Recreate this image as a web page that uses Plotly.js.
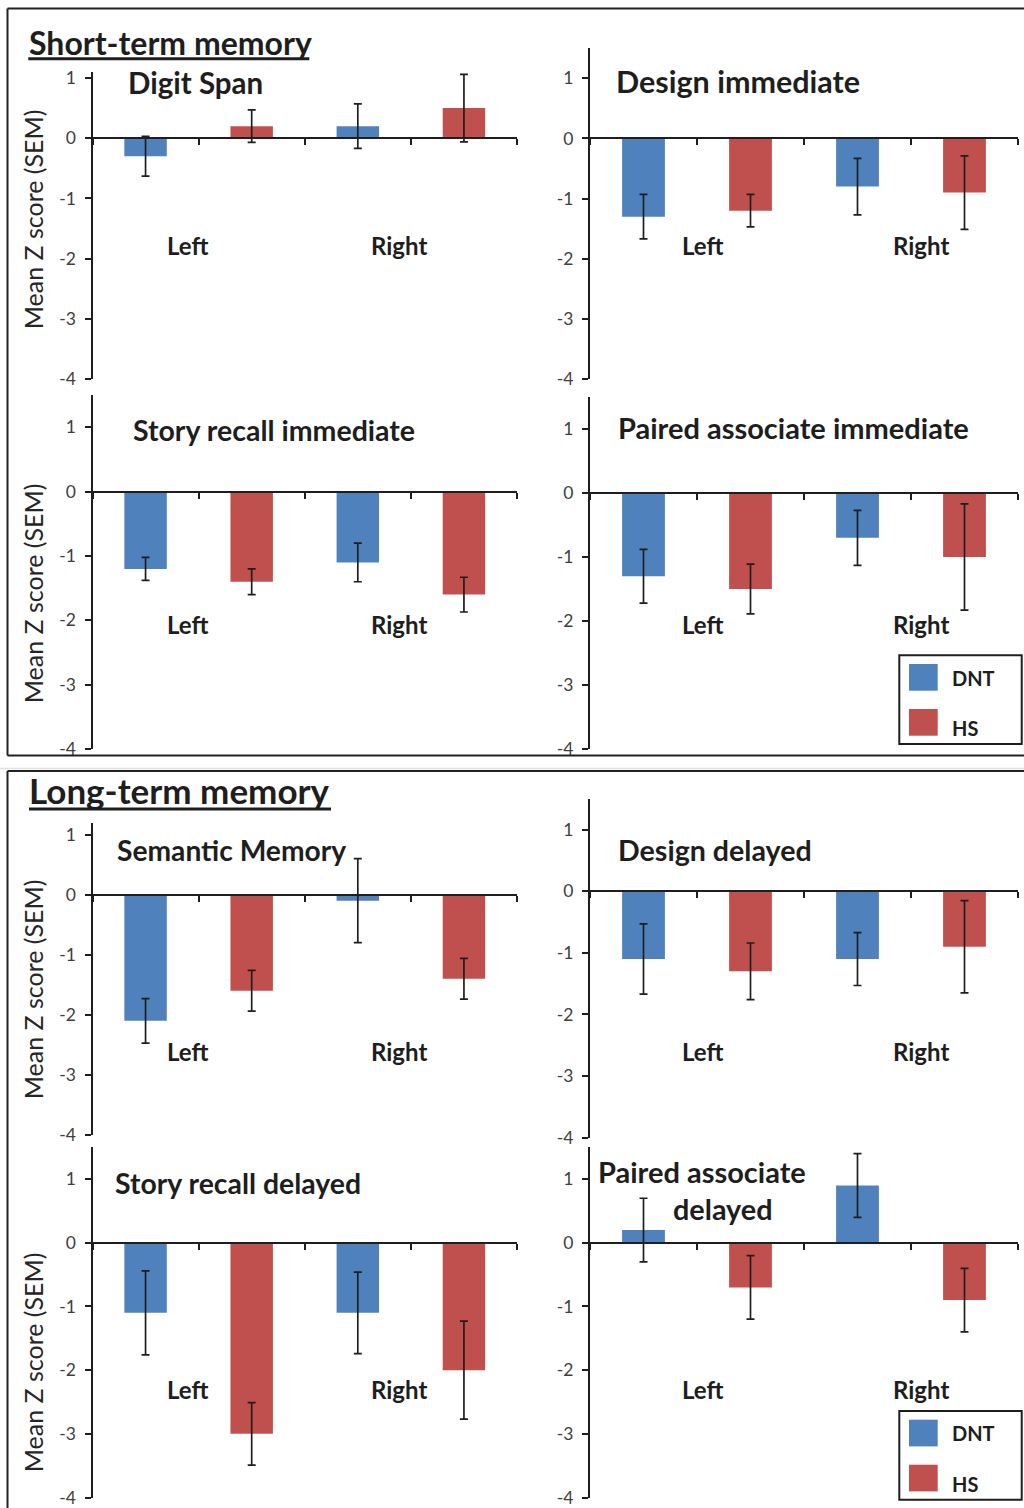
<!DOCTYPE html>
<html>
<head>
<meta charset="utf-8">
<script src="https://cdn.plot.ly/plotly-3.0.1.min.js"></script>
<style>html,body{margin:0;padding:0;background:#fff;}#chart{width:1024px;height:1508px;}</style>
</head>
<body>
<div id="chart"></div>
<script>
// ---------------- DATA ----------------
const panelTitles = ["Digit Span", "Design immediate", "Story recall immediate", "Paired associate immediate",
                     "Semantic Memory", "Design delayed", "Story recall delayed", "Paired associate delayed"];
const sides = ["Left", "Right"];
const groups = ["DNT", "HS"];
const sectionTitles = ["Short-term memory", "Long-term memory"];
const yAxisTitle = "Mean Z score (SEM)";
const zTicks = [1, 0, -1, -2, -3, -4];
const zTickLabels = ["1", "0", "-1", "-2", "-3", "-4"];

// means and SEM per panel (same order as panelTitles)
const dntLeft     = [-0.3, -1.3, -1.2, -1.3, -2.1, -1.1, -1.1,  0.2];
const dntLeftErr  = [0.33, 0.37, 0.18, 0.42, 0.37, 0.57, 0.66, 0.50];
const hsLeft      = [ 0.2, -1.2, -1.4, -1.5, -1.6, -1.3, -3.0, -0.7];
const hsLeftErr   = [0.27, 0.27, 0.20, 0.39, 0.34, 0.46, 0.49, 0.50];
const dntRight    = [ 0.2, -0.8, -1.1, -0.7, -0.1, -1.1, -1.1,  0.9];
const dntRightErr = [0.37, 0.47, 0.30, 0.43, 0.70, 0.43, 0.64, 0.50];
const hsRight     = [ 0.5, -0.9, -1.6, -1.0, -1.4, -0.9, -2.0, -0.9];
const hsRightErr  = [0.56, 0.61, 0.27, 0.83, 0.34, 0.75, 0.77, 0.50];

// ---------------- STYLE / LAYOUT ----------------
const W = 1024, H = 1508;
const fx = p => p / W;
const fy = p => 1 - p / H;
const FONT = "Lato, 'Open Sans', sans-serif";
const INK = "#1e1e1e";
const colors = {DNT: "#4F81BD", HS: "#C0504D"};

// panel geometry in pixels: x-domain, y-domain (top,bottom), y range
const geo = [
  {x: [92.5, 517], y: [72, 379],      r: [-4, 1.1]},
  {x: [590, 1018], y: [48.3, 379],    r: [-4, 1.5]},
  {x: [92.5, 517], y: [395.2, 749],   r: [-4, 1.5]},
  {x: [590, 1018], y: [397, 749],     r: [-4, 1.5]},
  {x: [92.5, 517], y: [822.5, 1135],  r: [-4, 1.2]},
  {x: [590, 1018], y: [799, 1137.5],  r: [-4, 1.5]},
  {x: [92.5, 517], y: [1147.3, 1497.5], r: [-4, 1.5]},
  {x: [590, 1018], y: [1147.3, 1497.5], r: [-4, 1.5]}
];

const catOf = (side, grp) => side + " " + grp;
const categoryArray = [];
sides.forEach(s => groups.forEach(g => categoryArray.push(catOf(s, g))));

const seriesY = {DNT: [dntLeft, dntRight], HS: [hsLeft, hsRight]};
const seriesE = {DNT: [dntLeftErr, dntRightErr], HS: [hsLeftErr, hsRightErr]};

const traces = [];
const layout = {
  width: W, height: H,
  margin: {l: 0, r: 0, t: 0, b: 0},
  paper_bgcolor: "#fff", plot_bgcolor: "rgba(0,0,0,0)",
  showlegend: false,
  barmode: "overlay",
  font: {family: FONT, color: INK},
  annotations: [],
  shapes: []
};

geo.forEach((g, i) => {
  const n = i + 1;
  const xa = n === 1 ? "xaxis" : "xaxis" + n;
  const ya = n === 1 ? "yaxis" : "yaxis" + n;
  const xr = n === 1 ? "x" : "x" + n;
  const yr = n === 1 ? "y" : "y" + n;
  groups.forEach(grp => {
    traces.push({
      type: "bar",
      name: grp,
      x: sides.map(s => catOf(s, grp)),
      y: seriesY[grp].map(arr => arr[i]),
      width: 0.4,
      xaxis: xr, yaxis: yr,
      marker: {color: colors[grp]},
      error_y: {type: "data", array: seriesE[grp].map(arr => arr[i]), visible: true,
                color: INK, thickness: 1.7, width: 4},
      hoverinfo: "skip"
    });
  });
  const yb = fy(g.y[1]), yt = fy(g.y[0]);
  const zeroPos = yb + (0 - g.r[0]) / (g.r[1] - g.r[0]) * (yt - yb);
  layout[xa] = {
    domain: [fx(g.x[0]), fx(g.x[1])],
    anchor: "free", position: zeroPos,
    type: "category", categoryorder: "array", categoryarray: categoryArray,
    range: [-0.5, 3.5], tickson: "boundaries",
    ticks: "outside", ticklen: 6, tickwidth: 2, tickcolor: INK,
    showline: true, linewidth: 2, linecolor: INK,
    showticklabels: false, showgrid: false, zeroline: false, fixedrange: true
  };
  layout[ya] = {
    domain: [yb, yt], anchor: xr,
    range: g.r, tickmode: "array", tickvals: zTicks, ticktext: zTickLabels,
    ticks: "outside", ticklen: 6, tickwidth: 2, tickcolor: INK,
    ticklabelstandoff: 5, ticklabeloverflow: "allow",
    showline: true, linewidth: 2, linecolor: INK,
    showgrid: false, zeroline: false, fixedrange: true,
    tickfont: {family: FONT, size: 17.5, color: "#404040"}
  };
});

function ann(text, x, yc, size, weight, anchor, extra) {
  return Object.assign({
    text: text, xref: "paper", yref: "paper", x: fx(x), y: fy(yc),
    xanchor: anchor || "left", yanchor: "middle", showarrow: false,
    font: {family: FONT, size: size, color: INK, weight: weight}
  }, extra || {});
}

// section titles + underline
layout.annotations.push(ann(sectionTitles[0], 26.5, 42.5, 32, 700));
layout.annotations.push(ann(sectionTitles[1], 27, 790.5, 35, 700));
layout.shapes.push({type: "line", xref: "paper", yref: "paper", x0: fx(28.3), x1: fx(309.3), y0: fy(58.7), y1: fy(58.7), line: {color: INK, width: 3}});
layout.shapes.push({type: "line", xref: "paper", yref: "paper", x0: fx(29), x1: fx(331), y0: fy(809), y1: fy(809), line: {color: INK, width: 3}});

// panel titles (pixel positions: left x, cap centre y, font size)
const titlePos = [[126, 82.3, 29.5], [614, 80.8, 30.5], [131, 430, 28.5], [615.7, 427.5, 29],
                  [115.3, 850, 28.2], [616.3, 850, 28.6], [113, 1183, 28.4]];
titlePos.forEach((p, i) => layout.annotations.push(ann(panelTitles[i], p[0], p[1], p[2], 700)));
const pad = panelTitles[7].split(" ");
layout.annotations.push(ann(pad[0] + " " + pad[1], 596.3, 1171.2, 29, 700));
layout.annotations.push(ann(pad[2], 671.3, 1209, 28.8, 700));

// Left / Right labels
const lrY = [245.5, 245.5, 624.7, 624.5, 1051.3, 1051.3, 1389.5, 1389.5];
lrY.forEach((yc, i) => {
  const right = i % 2 === 1;
  layout.annotations.push(ann(sides[0], right ? 702.5 : 187.5, yc, 24, 700, "center"));
  layout.annotations.push(ann(sides[1], right ? 921.3 : 399, yc, 24, 700, "center"));
});

// y-axis titles (left column only)
[219, 593, 989, 1362].forEach(yc => {
  layout.annotations.push(ann(yAxisTitle, 33.3, yc, 25, 400, "center", {textangle: -90, font: {family: FONT, size: 25, color: "#262626"}}));
});

// legends
function legendAt(top, dntY, hsY) {
  layout.shapes.push({type: "rect", xref: "paper", yref: "paper", x0: fx(899.3), x1: fx(1021.7), y0: fy(top), y1: fy(top + 88.7), line: {color: INK, width: 2}, fillcolor: "rgba(0,0,0,0)"});
  layout.shapes.push({type: "rect", xref: "paper", yref: "paper", x0: fx(909), x1: fx(937.7), y0: fy(top + 8.7), y1: fy(top + 35.4), line: {width: 0}, fillcolor: colors[groups[0]]});
  layout.shapes.push({type: "rect", xref: "paper", yref: "paper", x0: fx(909), x1: fx(937.7), y0: fy(top + 53.7), y1: fy(top + 80.4), line: {width: 0}, fillcolor: colors[groups[1]]});
  layout.annotations.push(ann(groups[0], 949.7, dntY, 20, 700));
  layout.annotations.push(ann(groups[1], 949.7, hsY, 20, 700));
}
legendAt(655.3, 677.5, 727.5);
legendAt(1411, 1433, 1483.8);

// section frames
const fr = (x0, y0, x1, y1) => layout.shapes.push({type: "line", xref: "paper", yref: "paper", x0: fx(x0), y0: fy(y0), x1: fx(x1), y1: fy(y1), line: {color: "#222", width: 2}});
fr(7.5, 8.5, 1030, 8.5); fr(7.5, 8.5, 7.5, 755.5); fr(7.5, 755.5, 1030, 755.5);
fr(7.5, 771, 1030, 771); fr(7.5, 771, 7.5, 1515);
layout.shapes.push({type: "line", xref: "paper", yref: "paper", x0: 0, x1: 1, y0: fy(768.5), y1: fy(768.5), line: {color: "#e2e2e2", width: 1.5}});

Plotly.newPlot("chart", traces, layout, {staticPlot: true, displayModeBar: false});
</script>
</body>
</html>
